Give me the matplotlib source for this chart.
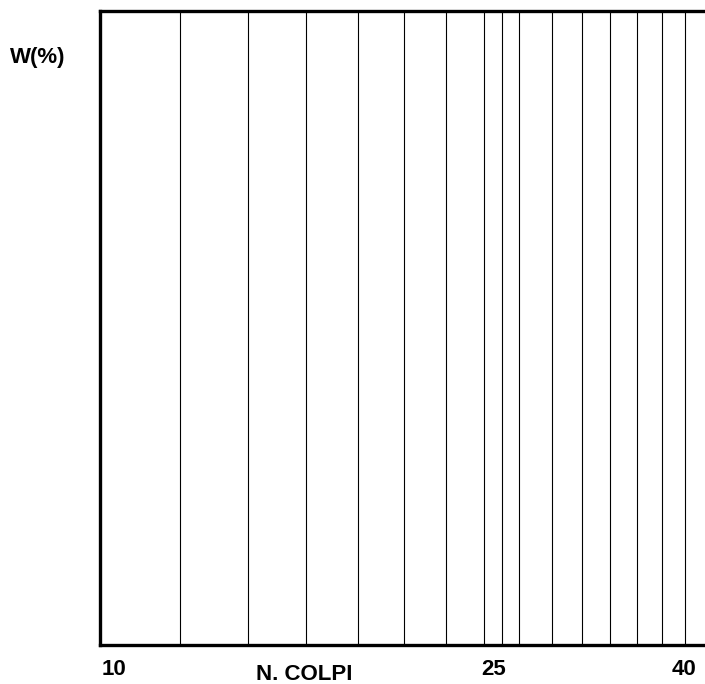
import matplotlib.pyplot as plt
import matplotlib.transforms as mtransforms

plt.rcParams['font.family'] = ['Liberation Sans', 'DejaVu Sans']

# number of blows where the grid lines are drawn
colpi = [12, 14, 16, 18, 20, 22, 24, 25, 26, 28, 30, 32, 34, 36, 38]
tick_vals = [10, 25, 40]
tick_labels = ['10', '25', '40']

fig = plt.figure(figsize=(7.05, 6.84), dpi=100)
ax = fig.add_axes([0.1418, 0.057, 0.8624, 0.927])

ax.set_xscale('log')
ax.set_xlim(10, 40)
ax.set_ylim(0, 1)

for c in colpi:
    ax.axvline(c, color='black', lw=0.8)

ax.set_yticks([])
ax.minorticks_off()
ax.set_xticks(tick_vals)
ax.set_xticklabels(tick_labels, fontsize=16, fontweight='bold')
ax.tick_params(axis='x', length=0, pad=10)

# nudge tick labels like in the printed chart
shifts = [(1.5, 'left'), (-6, 'center'), (-8, 'right')]
for lab, (dx, ha) in zip(ax.get_xticklabels(), shifts):
    lab.set_ha(ha)
    lab.set_transform(lab.get_transform() + mtransforms.ScaledTranslation(dx / 72, 0, fig.dpi_scale_trans))

for s in ['left', 'top', 'bottom']:
    ax.spines[s].set_linewidth(2.4)
ax.spines['right'].set_visible(False)

fig.text(304 / 705, 1 - 674 / 684, 'N. COLPI', ha='center', va='center',
         fontsize=16, fontweight='bold')
fig.text(10 / 705, 1 - 57 / 684, 'W(%)', ha='left', va='center',
         fontsize=16, fontweight='bold')

fig.savefig('out.png', dpi=100)
